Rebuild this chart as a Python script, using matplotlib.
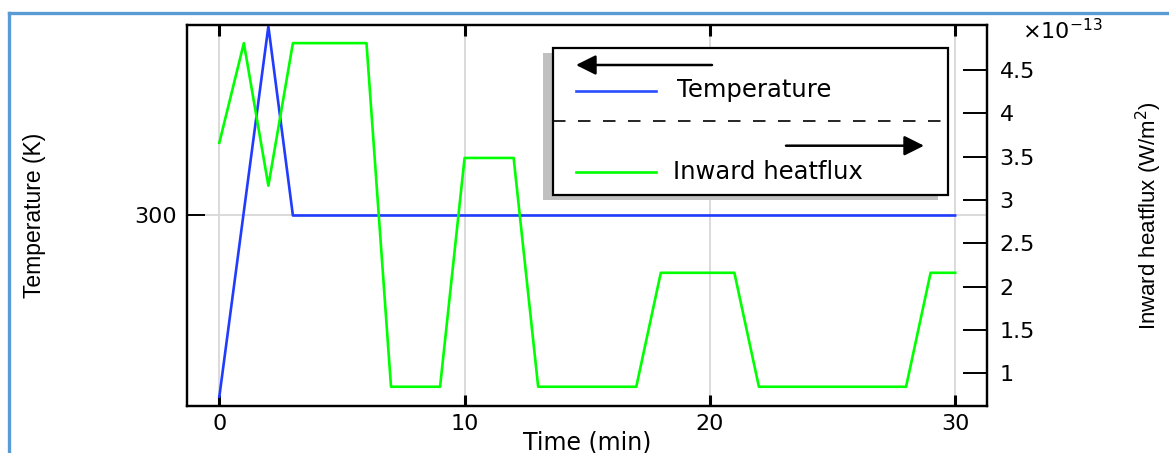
import numpy as np
from matplotlib import pyplot as plt
from matplotlib.lines import Line2D
from matplotlib.patches import Rectangle

# temperature (K) vs time (min)
temp_time = [0, 2, 3, 30]
temp_vals = [293.15, 307.15, 300, 300]

# inward heatflux (W/m^2, in units of 1e-13) vs time (min)
flux_time = [0, 1, 2, 3, 6, 7, 9, 10, 12, 13, 17, 18, 21, 22, 28, 29, 30]
flux_vals = [3.66, 4.81, 3.165, 4.81, 4.81, 0.845, 0.845, 3.485, 3.485,
             0.845, 0.845, 2.16, 2.16, 0.845, 0.845, 2.16, 2.16]

xticks = [0, 10, 20, 30]
temp_ticks = [300]
flux_ticks = [1, 1.5, 2, 2.5, 3, 3.5, 4, 4.5]

W, H = 1169, 453
label_font = 'Liberation Sans'

fig = plt.figure(figsize=(W / 100, H / 100), dpi=100)
fig.patch.set_facecolor('white')

ax = fig.add_axes([186.7 / W, 1 - 406 / H, (987 - 186.7) / W, (406 - 25) / H])
ax2 = ax.twinx()

ax.plot(temp_time, temp_vals, color='#1f3cff', lw=1.9, zorder=3)
ax2.plot(flux_time, flux_vals, color='#00ff00', lw=1.9, zorder=3)

ax.set_xlim(-1.33, 31.3)
ax.set_ylim(292.8, 307.2)
ax2.set_ylim(0.623, 5.019)

ax.set_xticks(xticks)
ax.set_yticks(temp_ticks)
ax2.set_yticks(flux_ticks)
ax2.set_yticklabels([f'{v:g}' for v in flux_ticks])

ax.grid(True, color='#d8d8d8', lw=1.3, zorder=0)
ax.set_axisbelow(True)

for a in (ax, ax2):
    for s in a.spines.values():
        s.set_linewidth(1.6)
        s.set_color('black')

ax.tick_params(axis='x', direction='in', top=True, length=8, width=2.2,
               labelsize=16, pad=6)
ax.tick_params(axis='y', direction='in', length=13, width=1.4,
               labelsize=16, pad=7)
ax2.tick_params(axis='y', direction='in', length=17, width=1.4,
                labelsize=16, pad=9)

ax.set_xlabel('Time (min)', fontsize=17, labelpad=-3)
ax.set_ylabel('Temperature (K)', fontsize=16.5, family=label_font)
ax.yaxis.set_label_coords(-0.176, 0.5)
ax2.set_ylabel('Inward heatflux (W/m$^2$)', fontsize=16, family=label_font)
ax2.yaxis.set_label_coords(1.184, 0.5)

fig.text(1022 / W, 1 - 31 / H, r'$\times$10$^{-13}$', fontsize=16,
         ha='left', va='center')

# legend drawn in pixel space on an overlay
lax = fig.add_axes([0, 0, 1, 1], zorder=5)
lax.set_xlim(0, W)
lax.set_ylim(H, 0)
lax.set_axis_off()
lax.patch.set_visible(False)

lax.add_patch(Rectangle((543, 53), 395, 147, facecolor='#c0c0c0',
                        edgecolor='none'))
lax.add_patch(Rectangle((553, 48), 395, 147, facecolor='white',
                        edgecolor='black', lw=1.6))
lax.annotate('', xy=(576, 65), xytext=(712, 65),
             arrowprops=dict(arrowstyle='-|>,head_length=0.6,head_width=0.3',
                             color='black', lw=1.8, mutation_scale=20,
                             shrinkA=0, shrinkB=0))
lax.annotate('', xy=(924, 145.7), xytext=(786, 145.7),
             arrowprops=dict(arrowstyle='-|>,head_length=0.6,head_width=0.3',
                             color='black', lw=1.8, mutation_scale=20,
                             shrinkA=0, shrinkB=0))
lax.plot([553, 948], [121, 121], color='black', lw=1.2, dashes=[7.5, 7.5])
lax.plot([576, 656], [90.7, 90.7], color='#2a4cff', lw=1.9)
lax.plot([576, 656], [172, 172], color='#00ff00', lw=1.9)
lax.text(677, 90, 'Temperature', fontsize=17.5, va='center', ha='left')
lax.text(673, 172, 'Inward heatflux', fontsize=17.5, va='center', ha='left')

# light blue frame on left and top edges
fig.add_artist(Line2D([8.5 / W, 8.5 / W], [0, 1 - 13 / H], color='#5b9bd5',
                      lw=2.4, transform=fig.transFigure))
fig.add_artist(Line2D([8.5 / W, 1], [1 - 13 / H, 1 - 13 / H], color='#5b9bd5',
                      lw=2.4, transform=fig.transFigure))

fig.savefig('out.png', dpi=100)
